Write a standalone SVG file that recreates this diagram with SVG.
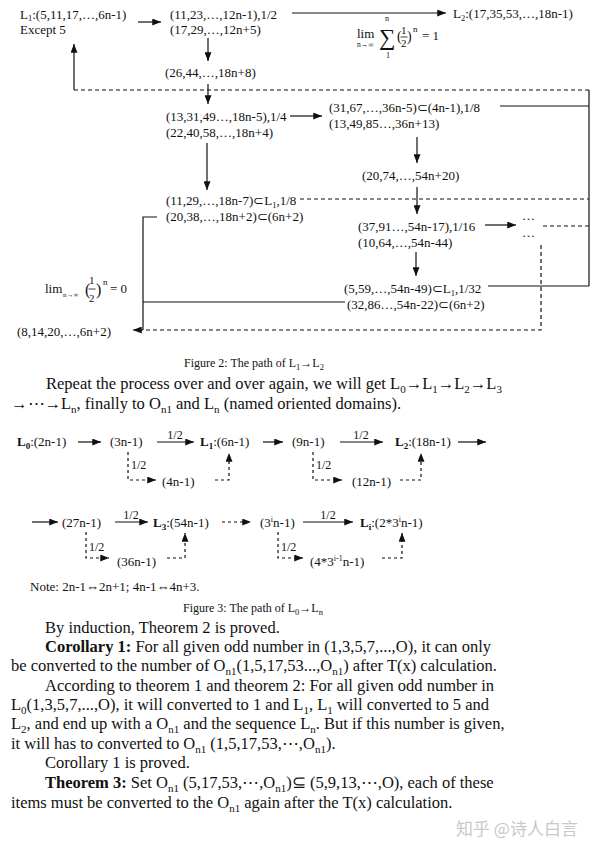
<svg xmlns="http://www.w3.org/2000/svg" width="600" height="855" viewBox="0 0 600 855">
<style>
text{font-family:"Liberation Serif","Times New Roman",serif;fill:#111}
.n{font-size:13px}
.b{font-size:16.5px}
.f3{font-size:13px}
.lb{font-size:12px}
.cap{font-size:12px}
.bd{font-weight:bold}
.ln{stroke:#111;stroke-width:1.2;fill:none}
.ds{stroke-dasharray:4 3}
.ds2{stroke-dasharray:3 3}
.wm{font-family:"Noto Sans CJK SC","Noto Sans",sans-serif;font-size:17px;fill:#c8c8c8}
</style>
<defs>
<marker id="ah" viewBox="0 0 10 8" refX="10" refY="4" markerWidth="9" markerHeight="7" markerUnits="userSpaceOnUse" orient="auto"><path d="M0,0 L10,4 L0,8 z" fill="#111"/></marker>
</defs>

<!-- Figure 2 nodes -->
<g id="nL1" class="n"><text x="20" y="18.5">L<tspan font-size="8.5" dy="2.5">1</tspan><tspan dy="-2.5">:(5,11,17,…,6n-1)</tspan></text><text x="20" y="33.5">Except 5</text></g>
<g id="n11" class="n"><text x="170" y="18.5">(11,23,…,12n-1),1/2</text><text x="170" y="33.5">(17,29,…,12n+5)</text></g>
<g id="nL2" class="n"><text x="453" y="18">L<tspan font-size="8.5" dy="2.5">2</tspan><tspan dy="-2.5">:(17,35,53,…,18n-1)</tspan></text></g>
<g id="lim1">
<text x="357" y="38" font-size="13">lim</text>
<text x="357" y="47" font-size="7.5">n→∞</text>
<text x="379" y="45" font-size="23" font-family="DejaVu Serif,serif">∑</text>
<text x="385" y="21" font-size="8">n</text>
<text x="386" y="58" font-size="8">1</text>
<text x="397" y="41" font-size="14">(</text>
<text x="401" y="34" font-size="11">1</text>
<line x1="400.5" y1="37" x2="407.5" y2="37" stroke="#111" stroke-width="0.8"/>
<text x="401" y="47" font-size="11">2</text>
<text x="407" y="41" font-size="14">)</text>
<text x="413" y="32" font-size="9">n</text>
<text x="422" y="40" font-size="13">= 1</text>
</g>
<g id="n26" class="n"><text x="165" y="77">(26,44,…,18n+8)</text></g>
<g id="n13" class="n"><text x="166" y="120.5">(13,31,49…,18n-5),1/4</text><text x="166" y="136.5">(22,40,58,…,18n+4)</text></g>
<g id="n11b" class="n"><text x="166" y="205">(11,29,…,18n-7)⊂L<tspan font-size="8.5" dy="2.5">1</tspan><tspan dy="-2.5">,1/8</tspan></text><text x="166" y="221">(20,38,…,18n+2)⊂(6n+2)</text></g>
<g id="n31" class="n"><text x="329" y="111.5">(31,67,…,36n-5)⊂(4n-1),1/8</text><text x="329" y="127.5">(13,49,85…,36n+13)</text></g>
<g id="n20" class="n"><text x="362" y="179.5">(20,74,…,54n+20)</text></g>
<g id="n37" class="n"><text x="358" y="230.5">(37,91…,54n-17),1/16</text><text x="358" y="246.5">(10,64,…,54n-44)</text></g>
<g id="ndots" class="n"><text x="522" y="220">…</text><text x="522" y="237">…</text></g>
<g id="n5" class="n"><text x="344" y="293">(5,59,…,54n-49)⊂L<tspan font-size="8.5" dy="2.5">1</tspan><tspan dy="-2.5">,1/32</tspan></text><text x="347" y="309">(32,86…,54n-22)⊂(6n+2)</text></g>
<g id="n8" class="n"><text x="17" y="335.5">(8,14,20,…,6n+2)</text></g>
<g id="lim2">
<text x="45" y="293" font-size="13">lim</text>
<text x="63" y="297" font-size="7">n→∞</text>
<text x="85" y="295" font-size="16">(</text>
<text x="89" y="284" font-size="11">1</text>
<line x1="88.5" y1="289" x2="95.5" y2="289" stroke="#111" stroke-width="0.8"/>
<text x="89" y="302" font-size="11">2</text>
<text x="96" y="295" font-size="16">)</text>
<text x="103" y="285" font-size="9">n</text>
<text x="110" y="293" font-size="13">= 0</text>
</g>

<!-- Figure 2 connectors -->
<g id="conn2">
<line class="ln" x1="138" y1="22" x2="161" y2="22" marker-end="url(#ah)"/>
<line class="ln" x1="292" y1="13" x2="446" y2="13" marker-end="url(#ah)"/>
<line class="ln" x1="208" y1="38" x2="208" y2="61" marker-end="url(#ah)"/>
<line class="ln" x1="208" y1="84" x2="208" y2="104" marker-end="url(#ah)"/>
<line class="ln ds" x1="74" y1="90" x2="589" y2="90"/>
<line class="ln" x1="74" y1="90" x2="74" y2="44" marker-end="url(#ah)"/>
<line class="ln" x1="290" y1="116" x2="322" y2="116" marker-end="url(#ah)"/>
<line class="ln" x1="207" y1="143" x2="207" y2="190" marker-end="url(#ah)"/>
<line class="ln" x1="417" y1="137" x2="417" y2="163" marker-end="url(#ah)"/>
<line class="ln" x1="417" y1="187" x2="417" y2="214" marker-end="url(#ah)"/>
<line class="ln" x1="485" y1="225" x2="516" y2="225" marker-end="url(#ah)"/>
<line class="ln" x1="416" y1="252" x2="416" y2="276" marker-end="url(#ah)"/>
<line class="ln" x1="500" y1="106" x2="589" y2="106"/>
<line class="ln" x1="589" y1="90" x2="589" y2="286"/>
<line class="ln" x1="488" y1="286" x2="589" y2="286"/>
<line class="ln ds" x1="543" y1="226" x2="589" y2="226"/>
<line class="ln ds" x1="300" y1="199" x2="589" y2="199"/>
<polyline class="ln" points="157,217 143,217 143,330"/>
<line class="ln" x1="143" y1="302" x2="345" y2="302"/>
<polyline class="ln ds" points="541,245 541,330 133,330" marker-end="url(#ah)"/>
</g>
<text class="cap" x="184" y="367">Figure 2: The path of L<tspan font-size="8.5" dy="2.5">1</tspan><tspan dy="-2.5">→L</tspan><tspan font-size="8.5" dy="2.5">2</tspan></text>

<!-- body text 1 -->
<g id="body1" class="b">
<text x="46" y="389">Repeat the process over and over again, we will get L<tspan font-size="11" dy="3.5">0</tspan><tspan dy="-3.5">→L</tspan><tspan font-size="11" dy="3.5">1</tspan><tspan dy="-3.5">→L</tspan><tspan font-size="11" dy="3.5">2</tspan><tspan dy="-3.5">→L</tspan><tspan font-size="11" dy="3.5">3</tspan></text>
<text x="11" y="409">→⋯→L<tspan font-size="11" dy="3.5">n</tspan><tspan dy="-3.5">, finally to O</tspan><tspan font-size="11" dy="3.5">n1</tspan><tspan dy="-3.5"> and L</tspan><tspan font-size="11" dy="3.5">n</tspan><tspan dy="-3.5"> (named oriented domains).</tspan></text>
</g>

<!-- Figure 3 nodes -->
<g id="f3L0" class="f3"><text x="17" y="446"><tspan class="bd">L</tspan><tspan class="bd" font-size="9" dy="3">0</tspan><tspan dy="-3">:(2n-1)</tspan></text></g>
<g id="f3a" class="f3"><text x="110" y="446">(3n-1)</text></g>
<g id="f3L1" class="f3"><text x="200" y="446"><tspan class="bd">L</tspan><tspan class="bd" font-size="9" dy="3">1</tspan><tspan dy="-3">:(6n-1)</tspan></text></g>
<g id="f3b" class="f3"><text x="292" y="446">(9n-1)</text></g>
<g id="f3L2" class="f3"><text x="395" y="446"><tspan class="bd">L</tspan><tspan class="bd" font-size="9" dy="3">2</tspan><tspan dy="-3">:(18n-1)</tspan></text></g>
<g id="f3c" class="f3"><text x="162" y="486">(4n-1)</text></g>
<g id="f3d" class="f3"><text x="352" y="486">(12n-1)</text></g>
<g id="f3e" class="f3"><text x="62" y="527">(27n-1)</text></g>
<g id="f3L3" class="f3"><text x="153" y="527"><tspan class="bd">L</tspan><tspan class="bd" font-size="9" dy="3">3</tspan><tspan dy="-3">:(54n-1)</tspan></text></g>
<g id="f3f" class="f3"><text x="260" y="527">(3<tspan font-size="8" dy="-5">i</tspan><tspan dy="5">n-1)</tspan></text></g>
<g id="f3Li" class="f3"><text x="360" y="527"><tspan class="bd">L</tspan><tspan class="bd" font-size="9" dy="3">i</tspan><tspan dy="-3">:(2*3</tspan><tspan font-size="8" dy="-5">i</tspan><tspan dy="5">n-1)</tspan></text></g>
<g id="f3g" class="f3"><text x="117" y="566">(36n-1)</text></g>
<g id="f3h" class="f3"><text x="310" y="566">(4*3<tspan font-size="8" dy="-5">i-1</tspan><tspan dy="5">n-1)</tspan></text></g>

<!-- Figure 3 connectors -->
<g id="conn3">
<line class="ln" x1="78" y1="442" x2="101" y2="442" marker-end="url(#ah)"/>
<line class="ln" x1="157" y1="442" x2="194" y2="442" marker-end="url(#ah)"/>
<line class="ln" x1="263" y1="442" x2="283" y2="442" marker-end="url(#ah)"/>
<line class="ln" x1="340" y1="442" x2="383" y2="442" marker-end="url(#ah)"/>
<line class="ln" x1="458" y1="442" x2="486" y2="442" marker-end="url(#ah)"/>
<polyline class="ln ds2" points="128,452 128,480 156,480" marker-end="url(#ah)"/>
<polyline class="ln ds2" points="215,480 229,480 229,453" marker-end="url(#ah)"/>
<polyline class="ln ds2" points="313,452 313,480 342,480" marker-end="url(#ah)"/>
<polyline class="ln ds2" points="400,480 421,480 421,453" marker-end="url(#ah)"/>
<line class="ln" x1="32" y1="522" x2="58" y2="522" marker-end="url(#ah)"/>
<line class="ln" x1="115" y1="522" x2="148" y2="522" marker-end="url(#ah)"/>
<line class="ln ds2" x1="222" y1="522" x2="251" y2="522" marker-end="url(#ah)"/>
<line class="ln" x1="303" y1="522" x2="353" y2="522" marker-end="url(#ah)"/>
<polyline class="ln ds2" points="86,532 86,558 109,558" marker-end="url(#ah)"/>
<polyline class="ln ds2" points="167,558 185,558 185,533" marker-end="url(#ah)"/>
<polyline class="ln ds2" points="278,532 278,558 303,558" marker-end="url(#ah)"/>
<polyline class="ln ds2" points="382,558 402,558 402,533" marker-end="url(#ah)"/>
<text class="lb" x="175" y="438.5" text-anchor="middle">1/2</text>
<text class="lb" x="361" y="438.5" text-anchor="middle">1/2</text>
<text class="lb" x="131" y="518.5" text-anchor="middle">1/2</text>
<text class="lb" x="328" y="518.5" text-anchor="middle">1/2</text>
<text class="lb" x="131" y="469">1/2</text>
<text class="lb" x="316" y="469">1/2</text>
<text class="lb" x="89" y="551">1/2</text>
<text class="lb" x="281" y="551">1/2</text>
</g>
<text class="f3" x="30" y="591">Note: 2n-1⇔2n+1; 4n-1⇔4n+3.</text>
<text class="cap" x="183" y="612">Figure 3: The path of L<tspan font-size="8.5" dy="2.5">0</tspan><tspan dy="-2.5">→L</tspan><tspan font-size="8.5" dy="2.5">n</tspan></text>

<!-- body text 2 -->
<g id="body2" class="b">
<text x="45" y="633">By induction, Theorem 2 is proved.</text>
<text x="45" y="652"><tspan class="bd">Corollary 1:</tspan> For all given odd number in (1,3,5,7,...,O), it can only</text>
<text x="11" y="671">be converted to the number of O<tspan font-size="11" dy="3.5">n1</tspan><tspan dy="-3.5">(1,5,17,53...,O</tspan><tspan font-size="11" dy="3.5">n1</tspan><tspan dy="-3.5">) after T(x) calculation.</tspan></text>
<text x="45" y="691">According to theorem 1 and theorem 2: For all given odd number in</text>
<text x="11" y="710">L<tspan font-size="11" dy="3.5">0</tspan><tspan dy="-3.5">(1,3,5,7,...,O), it will converted to 1 and L</tspan><tspan font-size="11" dy="3.5">1</tspan><tspan dy="-3.5">, L</tspan><tspan font-size="11" dy="3.5">1</tspan><tspan dy="-3.5"> will converted to 5 and</tspan></text>
<text x="11" y="729">L<tspan font-size="11" dy="3.5">2</tspan><tspan dy="-3.5">, and end up with a O</tspan><tspan font-size="11" dy="3.5">n1</tspan><tspan dy="-3.5"> and the sequence L</tspan><tspan font-size="11" dy="3.5">n</tspan><tspan dy="-3.5">. But if this number is given,</tspan></text>
<text x="11" y="749">it will has to converted to O<tspan font-size="11" dy="3.5">n1</tspan><tspan dy="-3.5"> (1,5,17,53,⋯,O</tspan><tspan font-size="11" dy="3.5">n1</tspan><tspan dy="-3.5">).</tspan></text>
<text x="45" y="768">Corollary 1 is proved.</text>
<text x="45" y="788"><tspan class="bd">Theorem 3:</tspan> Set O<tspan font-size="11" dy="3.5">n1</tspan><tspan dy="-3.5"> (5,17,53,⋯,O</tspan><tspan font-size="11" dy="3.5">n1</tspan><tspan dy="-3.5">)⊆ (5,9,13,⋯,O), each of these</tspan></text>
<text x="11" y="808">items must be converted to the O<tspan font-size="11" dy="3.5">n1</tspan><tspan dy="-3.5"> again after the T(x) calculation.</tspan></text>
</g>
<text class="wm" x="456" y="835">知乎 @诗人白言</text>
</svg>
